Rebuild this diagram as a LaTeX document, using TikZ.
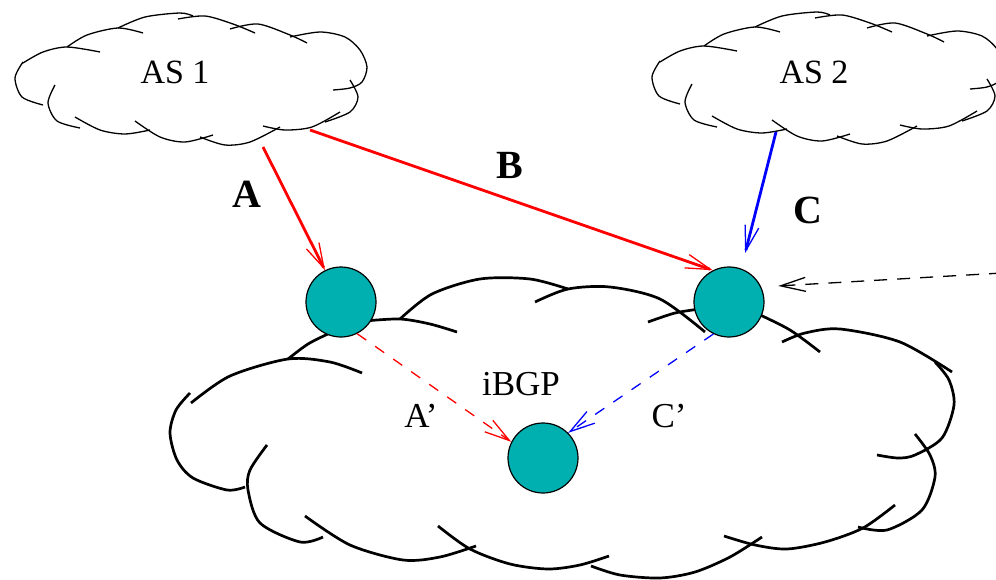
\documentclass[tikz,border=0pt]{standalone}
\usepackage{fontspec}
\setmainfont{Liberation Serif}
\usetikzlibrary{arrows.meta}
\definecolor{nodeteal}{RGB}{0,176,176}

\tikzset{
  thinarc/.style={line width=1.3pt},
  thickarc/.style={line width=2.7pt},
  router/.style={circle, draw, fill=nodeteal, line width=1.2pt,
                 minimum size=70pt, inner sep=0pt},
  barbtip/.tip={Straight Barb[length=25pt, width=14pt, line width=1.3pt]},
  ebgp/.style={-barbtip, line width=2.8pt},
  ibgp/.style={-barbtip, line width=1.3pt, dash pattern=on 11pt off 11pt},
  lab/.style={font=\fontsize{35}{40}\selectfont, inner sep=0pt},
  aslab/.style={font=\fontsize{34}{40}\selectfont, inner sep=0pt},
  boldlab/.style={font=\fontsize{40}{46}\selectfont\bfseries, inner sep=0pt},
  % a small autonomous-system cloud built from overlapping arcs
  ascloud/.pic={
    \draw[thinarc] plot[smooth] coordinates {(23,62) (15,78) (22,97) (43,105)};
    \draw[thinarc] plot[smooth] coordinates {(23,63) (43,52) (67,47) (100,52)};
    \draw[thinarc] plot[smooth] coordinates {(67,47) (87,35) (118,28) (143,33)};
    \draw[thinarc] plot[smooth] coordinates {(118,28) (145,17) (180,13) (193,16)};
    \draw[thinarc] plot[smooth] coordinates {(178,19) (205,16) (233,24) (255,33)};
    \draw[thinarc] plot[smooth] coordinates {(230,29) (258,24) (290,35) (307,43)};
    \draw[thinarc] plot[smooth] coordinates {(290,37) (320,32) (345,37) (360,50) (367,67) (362,82) (350,88) (333,90)};
    \draw[thinarc] plot[smooth] coordinates {(350,80) (358,97) (350,112) (325,122)};
    \draw[thinarc] plot[smooth] coordinates {(340,112) (312,127) (285,130) (263,126)};
    \draw[thinarc] plot[smooth] coordinates {(280,127) (250,142) (225,145) (200,137)};
    \draw[thinarc] plot[smooth] coordinates {(213,135) (185,142) (160,137) (135,121)};
    \draw[thinarc] plot[smooth] coordinates {(150,130) (125,134) (100,130) (75,117)};
    \draw[thinarc] plot[smooth] coordinates {(80,128) (57,121) (48,103) (55,85)};
  }
}

\begin{document}
\begin{tikzpicture}[x=1pt, y=-1pt]
\useasboundingbox (0,0) rectangle (996,580);

% the two neighbouring ASes
\pic at (0,0) {ascloud};
\pic at (637,-1) {ascloud};
\node[aslab] (as1) at (175,72) {AS 1};
\node[aslab] (as2) at (814,72) {AS 2};

% the local AS
\draw[thickarc] plot[smooth] coordinates {(191,403) (230,376) (288,359) (330,362) (362,373)};
\draw[thickarc] plot[smooth] coordinates {(288,359) (308,344) (330,333)};
\draw[thickarc] plot[smooth] coordinates {(365,321) (400,319) (430,324) (457,332)};
\draw[thickarc] plot[smooth] coordinates {(400,319) (432,294) (480,279) (530,279) (568,289)};
\draw[thickarc] plot[smooth] coordinates {(535,302) (568,289) (610,287) (660,299) (705,332)};
\draw[thickarc] plot[smooth] coordinates {(648,322) (675,313) (700,309)};
\draw[thickarc] plot[smooth] coordinates {(758,314) (790,330) (820,352)};
\draw[thickarc] plot[smooth] coordinates {(782,342) (805,333) (840,329) (900,342) (952,372)};
\draw[thickarc] plot[smooth] coordinates {(935,362) (949,380) (954,405) (942,438) (915,455) (898,458) (877,455)};
\draw[thickarc] plot[smooth] coordinates {(915,434) (930,455) (935,477) (922,510) (887,530) (858,527)};
\draw[thickarc] plot[smooth] coordinates {(895,505) (863,528) (825,542) (787,549) (755,545) (724,536)};
\draw[thickarc] plot[smooth] coordinates {(762,537) (730,557) (695,572) (660,578) (620,575) (591,566)};
\draw[thickarc] plot[smooth] coordinates {(438,526) (470,549) (510,564) (548,569) (580,565) (609,556)};
\draw[thickarc] plot[smooth] coordinates {(305,516) (350,545) (403,560) (440,557) (476,546)};
\draw[thickarc] plot[smooth] coordinates {(267,445) (250,470) (248,490) (260,523) (300,542) (323,537)};
\draw[thickarc] plot[smooth] coordinates {(190,393) (176,410) (170,433) (177,460) (193,478) (227,490) (245,487)};

% routers
\node[router] (n1) at (341,302) {};
\node[router] (n2) at (729,302) {};
\node[router] (n3) at (543,458) {};

% external sessions
\coordinate (a0) at (263,147);
\coordinate (b0) at (310,130);
\coordinate (c0) at (776,132);
\coordinate (d0) at (1002,273);
\draw[ebgp, red] (a0) -- (n1);
\draw[ebgp, red] (b0) -- (n2.117);
\draw[ebgp, blue, shorten >=16pt] (c0) -- (n2.70);
\draw[ibgp, black, dash pattern=on 13pt off 10pt, shorten >=17pt] (d0) -- (n2.25);

% internal propagation
\draw[ibgp, red] (n1.-63) -- (n3.153);
\draw[ibgp, blue] (n2.244) -- (n3.45);

% labels
\node[boldlab] (la) at (247,194) {A};
\node[boldlab] (lb) at (510,165) {B};
\node[boldlab] (lc) at (808,210) {C};
\node[lab] (libgp) at (521,384) {iBGP};
\node[lab] (lap) at (421,416) {A'};
\node[lab] (lcp) at (669,416) {C'};
\end{tikzpicture}
\end{document}
